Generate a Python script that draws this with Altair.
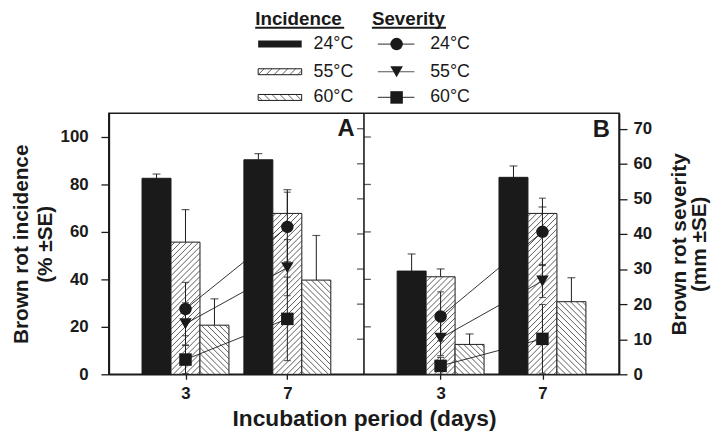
import altair as alt
import pandas as pd

# ---------------- data ----------------
DAY_LABELS = ["3", "7"]
TEMPS = ["24°C", "55°C", "60°C"]
PANELS = ["A", "B"]

# Brown rot incidence (%) and SE  -> [day 3, day 7]
inc_A_24 = [82.6, 90.4]; se_inc_A_24 = [1.8, 2.6]
inc_A_55 = [55.7, 67.8]; se_inc_A_55 = [13.7, 10.0]
inc_A_60 = [20.7, 39.7]; se_inc_A_60 = [11.1, 18.8]
inc_B_24 = [43.5, 83.0]; se_inc_B_24 = [7.2, 4.8]
inc_B_55 = [41.1, 67.8]; se_inc_B_55 = [3.3, 2.7]
inc_B_60 = [12.6, 30.6]; se_inc_B_60 = [4.4, 10.1]

# Brown rot severity (mm) and SE -> [day 3, day 7]
sev_A_24 = [18.6, 42.0]; se_sev_A_24 = [7.6, 9.9]
sev_A_55 = [14.4, 30.4]; se_sev_A_55 = [6.0, 8.0]
sev_A_60 = [4.2, 15.8];  se_sev_A_60 = [4.0, 11.9]
sev_B_24 = [16.5, 40.6]; se_sev_B_24 = [7.0, 9.6]
sev_B_55 = [10.3, 26.6]; se_sev_B_55 = [5.0, 4.7]
sev_B_60 = [2.4, 10.1];  se_sev_B_60 = [2.4, 9.8]

INC_TICKS = [0, 20, 40, 60, 80, 100]
SEV_TICKS = [0, 10, 20, 30, 40, 50, 60, 70]

# ---------------- layout ----------------
FONT = "Liberation Sans"
W, H = 516, 264
PANEL_W = W / 2
GROUP_PX = 103.0              # distance between the two day groups (px)
X_MAX = W / GROUP_PX
FIRST = 77.5 / GROUP_PX       # first group centre from panel edge
BAR = 29.3 / GROUP_PX         # bar width
DIVIDER = PANEL_W / GROUP_PX
INC_MAX, SEV_MAX = 110.0, 74.4
PX_INC = H / INC_MAX
HATCH_STEP = 6.0
INK = "#1a1a1a"


def center(pi, di):
    return pi * DIVIDER + FIRST + di


INC = {("A", TEMPS[0]): (inc_A_24, se_inc_A_24), ("A", TEMPS[1]): (inc_A_55, se_inc_A_55),
       ("A", TEMPS[2]): (inc_A_60, se_inc_A_60), ("B", TEMPS[0]): (inc_B_24, se_inc_B_24),
       ("B", TEMPS[1]): (inc_B_55, se_inc_B_55), ("B", TEMPS[2]): (inc_B_60, se_inc_B_60)}
SEV = {("A", TEMPS[0]): (sev_A_24, se_sev_A_24), ("A", TEMPS[1]): (sev_A_55, se_sev_A_55),
       ("A", TEMPS[2]): (sev_A_60, se_sev_A_60), ("B", TEMPS[0]): (sev_B_24, se_sev_B_24),
       ("B", TEMPS[1]): (sev_B_55, se_sev_B_55), ("B", TEMPS[2]): (sev_B_60, se_sev_B_60)}


def hatch_segments(w, h, direction, step):
    """segments inside a w x h box (y up); direction +1 = '/', -1 = '\\'"""
    segs = []
    if direction > 0:
        c = -w + step / 2
        while c < h:
            xa, xb = max(0.0, -c), min(w, h - c)
            if xb > xa:
                segs.append((xa, xa + c, xb, xb + c))
            c += step
    else:
        c = step / 2
        while c < w + h:
            xa, xb = max(0.0, c - h), min(w, c)
            if xb > xa:
                segs.append((xa, c - xa, xb, c - xb))
            c += step
    return segs


bar_rows, hatch_rows, sev_rows = [], [], []
for pi, p in enumerate(PANELS):
    for ti, t in enumerate(TEMPS):
        vals, ses = INC[(p, t)]
        svals, sses = SEV[(p, t)]
        for di in range(2):
            c = center(pi, di)
            x0 = c + (ti - 1.5) * BAR
            bar_rows.append(dict(panel=p, temp=t, day=DAY_LABELS[di], x0=x0, x1=x0 + BAR,
                                 xc=x0 + BAR / 2, zero=0.0, v=vals[di], hi=vals[di] + ses[di]))
            if ti > 0:
                d = 1 if ti == 1 else -1
                for a, ya, b, yb in hatch_segments(BAR * GROUP_PX, vals[di] * PX_INC, d, HATCH_STEP):
                    hatch_rows.append(dict(xa=x0 + a / GROUP_PX, ya=ya / PX_INC,
                                           xb=x0 + b / GROUP_PX, yb=yb / PX_INC))
            sev_rows.append(dict(panel=p, temp=t, series=p + t, day=DAY_LABELS[di], x=c,
                                 v=svals[di], lo=max(0.0, svals[di] - sses[di]),
                                 hi=svals[di] + sses[di]))

bars = pd.DataFrame(bar_rows)
hatch = pd.DataFrame(hatch_rows)
sev = pd.DataFrame(sev_rows)
div_df = pd.DataFrame([dict(x=DIVIDER, y0=0.0, y1=INC_MAX)])
inc_tick_df = pd.DataFrame(dict(x=[DIVIDER] * (len(INC_TICKS) - 1), y=INC_TICKS[1:]))
sev_tick_df = pd.DataFrame(dict(x=[DIVIDER] * (len(SEV_TICKS) - 1), y=SEV_TICKS[1:]))

A3, B3 = center(0, 0), center(1, 0)
label_expr = (f"(datum.value < {A3 + 0.5} || (datum.value > {B3 - 0.5} && datum.value < {B3 + 0.5}))"
              f" ? '{DAY_LABELS[0]}' : '{DAY_LABELS[1]}'")

XS = alt.Scale(domain=[0, X_MAX], nice=False, zero=False)
X_AX = alt.Axis(values=[center(p, d) for p in (0, 1) for d in (0, 1)], labelExpr=label_expr,
                title="Incubation period (days)", grid=False, tickSize=5, labelPadding=6,
                titlePadding=7, titleFontSize=23, labelFontSize=17)
YI = alt.Scale(domain=[0, INC_MAX], nice=False, zero=True)
YI_AX = alt.Axis(values=INC_TICKS, title=["Brown rot incidence", "(% ±SE)"], grid=False,
                 tickSize=8, labelPadding=13, titlePadding=5, titleLineHeight=24)
YS = alt.Scale(domain=[0, SEV_MAX], nice=False, zero=True)
YS_AX = alt.Axis(values=SEV_TICKS, title=["Brown rot severity", "(mm ±SE)"], grid=False,
                 orient="right", tickSize=8, labelPadding=6, titlePadding=17,
                 titleAngle=270, titleLineHeight=21)


def xq(f):
    return alt.X(f"{f}:Q", scale=XS, axis=X_AX)


def yi(f):
    return alt.Y(f"{f}:Q", scale=YI, axis=YI_AX)


def ys(f):
    return alt.Y(f"{f}:Q", scale=YS, axis=YS_AX)


# ---------------- incidence ----------------
bar_base = alt.Chart(bars)
black_bars = bar_base.transform_filter(alt.datum.temp == TEMPS[0]).mark_rect(
    fill=INK, stroke=INK, strokeWidth=1).encode(x=xq("x0"), x2="x1", y=yi("v"), y2="zero")
white_bars = bar_base.transform_filter(alt.datum.temp != TEMPS[0]).mark_rect(
    fill="white", stroke=INK, strokeWidth=1).encode(x=xq("x0"), x2="x1", y=yi("v"), y2="zero")
hatch_lines = alt.Chart(hatch).mark_rule(stroke="#333", strokeWidth=0.8).encode(
    x=xq("xa"), x2="xb", y=yi("ya"), y2="yb")
inc_err = bar_base.mark_rule(stroke=INK, strokeWidth=1).encode(x=xq("xc"), y=yi("v"), y2="hi")
inc_cap = bar_base.mark_tick(orient="horizontal", size=8, thickness=1.2, color=INK).encode(
    x=xq("xc"), y=yi("hi"))
divider = alt.Chart(div_df).mark_rule(stroke=INK, strokeWidth=1.6).encode(
    x=xq("x"), y=yi("y0"), y2="y1")
div_inc_ticks = alt.Chart(inc_tick_df).mark_tick(
    orient="horizontal", size=7, thickness=1.3, color=INK, xOffset=3.5).encode(x=xq("x"), y=yi("y"))

inc_group = alt.layer(black_bars, white_bars, hatch_lines, inc_err, inc_cap, divider, div_inc_ticks)

# ---------------- severity ----------------
sev_base = alt.Chart(sev)
sev_lines = sev_base.mark_line(color=INK, strokeWidth=0.9).encode(
    x=xq("x"), y=ys("v"), detail="series:N")
sev_err = sev_base.mark_rule(stroke=INK, strokeWidth=1).encode(x=xq("x"), y=ys("lo"), y2="hi")
sev_cap_hi = sev_base.mark_tick(orient="horizontal", size=7, thickness=1.1, color=INK).encode(
    x=xq("x"), y=ys("hi"))
sev_cap_lo = sev_base.mark_tick(orient="horizontal", size=7, thickness=1.1, color=INK).encode(
    x=xq("x"), y=ys("lo"))
sev_pts = sev_base.mark_point(filled=True, color=INK, opacity=1, size=160).encode(
    x=xq("x"), y=ys("v"),
    shape=alt.Shape("temp:N", scale=alt.Scale(domain=TEMPS, range=["circle", "triangle-down", "square"]),
                    legend=None))
div_sev_ticks = alt.Chart(sev_tick_df).mark_tick(
    orient="horizontal", size=7, thickness=1.3, color=INK, xOffset=-3.5).encode(x=xq("x"), y=ys("y"))

sev_group = alt.layer(sev_lines, sev_err, sev_cap_hi, sev_cap_lo, sev_pts, div_sev_ticks)

# ---------------- panel letters + legend (pixel layout) ----------------
one = pd.DataFrame({"k": [0]})
letters = [
    alt.Chart(one).mark_text(text=PANELS[0], font=FONT, fontSize=24, fontWeight="bold", color=INK,
                             baseline="middle", align="center").encode(x=alt.value(240), y=alt.value(16)),
    alt.Chart(one).mark_text(text=PANELS[1], font=FONT, fontSize=24, fontWeight="bold", color=INK,
                             baseline="middle", align="center").encode(x=alt.value(498), y=alt.value(17)),
]

ROW_Y = [-70, -42, -16]
legend_layers = []
for txt, x0, x1 in [("Incidence", 148, 238), ("Severity", 266, 341)]:
    legend_layers.append(alt.Chart(one).mark_text(
        text=txt, font=FONT, fontSize=19, fontWeight="bold", color=INK, align="left",
        baseline="middle").encode(x=alt.value(x0), y=alt.value(-95.5)))
    legend_layers.append(alt.Chart(one).mark_rule(stroke=INK, strokeWidth=2).encode(
        x=alt.value(x0), x2=alt.value(x1), y=alt.value(-86.5)))

SW_X0, SW_X1 = 151, 195
leg_hatch = []
for ti, t in enumerate(TEMPS):
    y = ROW_Y[ti]
    if ti == 0:
        legend_layers.append(alt.Chart(one).mark_rect(fill=INK).encode(
            x=alt.value(SW_X0), x2=alt.value(SW_X1), y=alt.value(y - 3.5), y2=alt.value(y + 3.5)))
    else:
        legend_layers.append(alt.Chart(one).mark_rect(fill="white", stroke=INK, strokeWidth=1).encode(
            x=alt.value(SW_X0), x2=alt.value(SW_X1), y=alt.value(y - 3), y2=alt.value(y + 3)))
        d = 1 if ti == 1 else -1
        for a, ya, b, yb in hatch_segments(SW_X1 - SW_X0, 6.0, d, 8.0):
            leg_hatch.append(dict(xa=SW_X0 + a, ya=y + 3 - ya, xb=SW_X0 + b, yb=y + 3 - yb))
    for tx in (207, 325):
        legend_layers.append(alt.Chart(one).mark_text(
            text=t, font=FONT, fontSize=18, color=INK, align="left", baseline="middle").encode(
            x=alt.value(tx), y=alt.value(y)))
    legend_layers.append(alt.Chart(one).mark_rule(stroke="#555", strokeWidth=1.2).encode(
        x=alt.value(272), x2=alt.value(309), y=alt.value(y)))

leg_hatch_df = pd.DataFrame(leg_hatch)
legend_layers.append(alt.Chart(leg_hatch_df).mark_rule(stroke="#333", strokeWidth=0.8).encode(
    x=alt.X("xa:Q", scale=None), x2="xb", y=alt.Y("ya:Q", scale=None), y2="yb"))
leg_sym = pd.DataFrame(dict(px=[291] * 3, py=ROW_Y, shape=["circle", "triangle-down", "square"]))
legend_layers.append(alt.Chart(leg_sym).mark_point(filled=True, color=INK, opacity=1, size=160).encode(
    x=alt.X("px:Q", scale=None), y=alt.Y("py:Q", scale=None), shape=alt.Shape("shape:N", scale=None)))

deco_group = alt.layer(*letters, *legend_layers)

chart = alt.layer(inc_group, sev_group, deco_group).resolve_scale(y="independent").properties(
    width=W, height=H,
    autosize=alt.AutoSizeParams(type="none"),
    padding={"left": 102, "top": 104, "right": 96, "bottom": 66},
).configure_view(stroke=INK, strokeWidth=1.6).configure_axis(
    labelFont=FONT, titleFont=FONT, labelFontWeight="bold", titleFontWeight="bold",
    labelFontSize=17, titleFontSize=21, labelColor=INK, titleColor=INK,
    domainColor=INK, tickColor=INK, domainWidth=1.6, tickWidth=1.3,
)

chart.save("out.html", embed_options={"renderer": "svg", "actions": False})
